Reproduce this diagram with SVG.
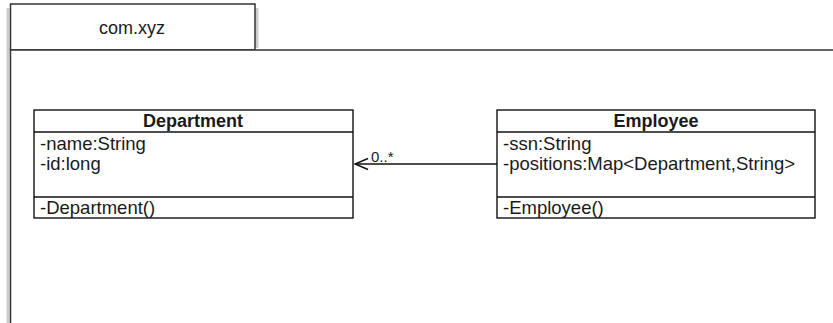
<svg xmlns="http://www.w3.org/2000/svg" width="833" height="323" viewBox="0 0 833 323">
<defs>
<style>
.pk{fill:#fff;stroke:#333;stroke-width:1.5}
.sh{fill:none;stroke:#ccc;stroke-width:3}
.box{fill:#fff;stroke:#111;stroke-width:1.4}
.sep{stroke:#111;stroke-width:1.4}
.t{font-family:"Liberation Sans",Arial,sans-serif;font-size:18.5px;fill:#1a1a1a}
.b{font-weight:bold;font-size:18px;text-anchor:middle}
.c{text-anchor:middle}
.lbl{font-family:"Liberation Sans",Arial,sans-serif;font-size:15px;fill:#1a1a1a}
.edge{fill:none;stroke:#111;stroke-width:1.4}
</style>
<marker id="open" markerWidth="16" markerHeight="14" refX="14" refY="7" orient="auto" markerUnits="userSpaceOnUse">
<path d="M1,1.5 L14,7 L1,12.5" fill="none" stroke="#111" stroke-width="1.4"/>
</marker>
</defs>
<rect width="833" height="323" fill="#fff"/>
<g id="package">
<path class="sh" d="M8,8 V323 M257,8 V48"/>
<rect class="pk" x="10.5" y="4" width="244.5" height="46"/>
<path class="pk" d="M10.5,50 H840 V330 H10.5 Z"/>
<text class="t c" x="132" y="34" style="font-size:18px">com.xyz</text>
</g>
<g id="connectors">
<line class="edge" x1="497" y1="164" x2="355" y2="164" marker-end="url(#open)"/>
<text class="lbl" x="371" y="161.5">0..*</text>
</g>
<g id="Department">
<rect class="box" x="34" y="110" width="319" height="108"/>
<line class="sep" x1="34" y1="132" x2="353" y2="132"/>
<line class="sep" x1="34" y1="197" x2="353" y2="197"/>
<text class="t b" x="193" y="126.5">Department</text>
<text class="t" x="40" y="150">-name:String</text>
<text class="t" x="40" y="170">-id:long</text>
<text class="t" x="40" y="214">-Department()</text>
</g>
<g id="Employee">
<rect class="box" x="497" y="110" width="318" height="108"/>
<line class="sep" x1="497" y1="132" x2="815" y2="132"/>
<line class="sep" x1="497" y1="197" x2="815" y2="197"/>
<text class="t b" x="656" y="126.5">Employee</text>
<text class="t" x="503" y="150">-ssn:String</text>
<text class="t" x="503" y="170">-positions:Map&lt;Department,String&gt;</text>
<text class="t" x="503" y="214">-Employee()</text>
</g>
</svg>
